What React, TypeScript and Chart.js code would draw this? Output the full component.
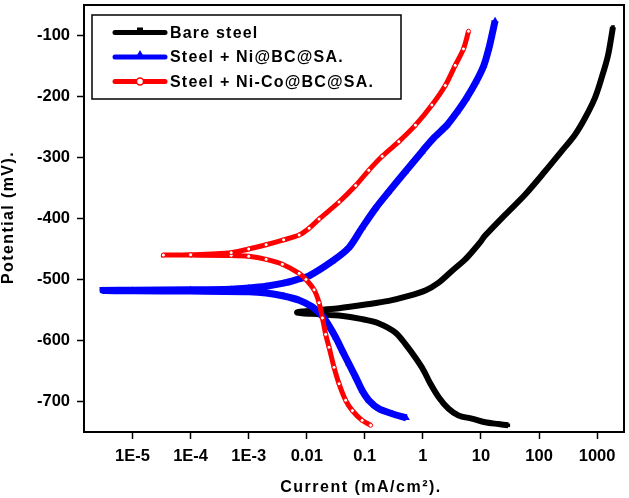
import React, { useEffect, useRef } from "react";
import { Chart, registerables } from "chart.js";

Chart.register(...registerables);

// ---- axis ticks ----
const xTicks = [1e-5, 1e-4, 1e-3, 0.01, 0.1, 1, 10, 100, 1000];
const xTickLabels = ["1E-5", "1E-4", "1E-3", "0.01", "0.1", "1", "10", "100", "1000"];
const yTicks = [-700, -600, -500, -400, -300, -200, -100];
const xTitle = "Current (mA/cm²).";
const yTitle = "Potential (mV).";

// ---- series ----
const seriesNames = ["Bare steel", "Steel + Ni@BC@SA.", "Steel + Ni-Co@BC@SA."];
const seriesColors = ["#000000", "#0000FF", "#FF0000"];

const bareCurrent = [
  29.6, 20, 11.8, 6.95, 4.11, 2.77, 1.87, 1.35, 1.03, 0.74, 0.5, 0.337, 0.175, 0.09, 0.036, 0.0163, 0.0068,
  0.0163, 0.036, 0.103, 0.259, 0.57, 1.1, 1.87, 3.16, 5.35, 7.43, 9.5, 11.8, 26, 57.3, 126, 243, 413, 613, 910, 1181, 1538, 1875,
];
const barePotential = [
  -739, -737, -734, -728, -723, -712, -693, -671, -649, -628, -606, -587, -572, -565, -559, -557, -554,
  -550, -547, -541, -535, -527, -518, -505, -486, -467, -452, -440, -428, -394, -361, -323, -290, -263, -236, -203, -171, -133, -86,
];

const niCurrent = [
  0.52, 0.295, 0.175, 0.117, 0.09, 0.0695, 0.053, 0.041, 0.0315, 0.0242, 0.0186, 0.0125, 0.0074, 0.004, 0.002, 0.001, 0.0001, 0.00001, 0.0000031,
  0.00001, 0.0001, 0.0005, 0.001, 0.002, 0.004, 0.0074, 0.011, 0.0276, 0.053, 0.09, 0.154, 0.259, 0.5, 0.97, 1.5, 2.6, 3.9, 5.6, 8.2, 11.2, 13.6, 15.4, 17.5,
];
const niPotential = [
  -727, -720, -712, -698, -682, -660, -638, -617, -595, -576, -560, -545, -534, -527, -522, -520, -519, -518.5, -518,
  -517.5, -517, -516, -514, -511, -506, -499, -494, -470, -448, -415, -383, -356, -323, -290, -269, -247, -225, -203, -176, -149, -122, -100, -76,
];

const niCoCurrent = [
  0.126, 0.09, 0.061, 0.0468, 0.036, 0.0295, 0.0242, 0.0212, 0.0186, 0.0163, 0.0134, 0.0097, 0.0074, 0.0038, 0.002, 0.001, 0.0005, 0.0001, 0.000034,
  0.0001, 0.0005, 0.001, 0.002, 0.004, 0.0074, 0.011, 0.0163, 0.036, 0.0695, 0.117, 0.199, 0.385, 0.743, 1.43, 2.43, 3.6, 5, 6.1,
];
const niCoPotential = [
  -739, -731, -715, -698, -671, -644, -611, -590, -563, -538, -517, -500, -490, -475, -467, -462, -460.5, -460, -460,
  -459.5, -456, -450, -443, -435, -427, -416, -401, -373, -346, -321, -298, -274, -247, -214, -182, -149, -122, -93,
];

const FONT = "'Liberation Sans', Arial, sans-serif";

const toPoints = (xs: number[], ys: number[]) => xs.map((x, i) => ({ x, y: ys[i] }));

const framePlugin = {
  id: "frame",
  afterDraw(chart: any) {
    const { ctx, chartArea } = chart;
    const { left, top, right, bottom } = chartArea;
    ctx.save();
    ctx.strokeStyle = "#000";
    ctx.lineWidth = 2;
    ctx.strokeRect(left, top, right - left, bottom - top);
    ctx.restore();
  },
};

const titlesPlugin = {
  id: "axisTitles",
  afterDraw(chart: any) {
    const { ctx, chartArea, height } = chart;
    ctx.save();
    ctx.fillStyle = "#000";
    ctx.font = `bold 16px ${FONT}`;
    ctx.textAlign = "center";
    ctx.textBaseline = "middle";
    (ctx as any).letterSpacing = "1.5px";
    ctx.fillText(xTitle, (chartArea.left + chartArea.right) / 2 + 7, height - 10.5);
    (ctx as any).letterSpacing = "1.4px";
    ctx.translate(8.5, (chartArea.top + chartArea.bottom) / 2 - 1);
    ctx.rotate(-Math.PI / 2);
    ctx.fillText(yTitle, 0, 0);
    ctx.restore();
  },
};

const legendPlugin = {
  id: "boxLegend",
  afterDraw(chart: any) {
    const { ctx, chartArea } = chart;
    const bx = chartArea.left + 8;
    const by = chartArea.top + 10;
    const bw = 309;
    const bh = 84;
    ctx.save();
    ctx.fillStyle = "#fff";
    ctx.fillRect(bx, by, bw, bh);
    ctx.strokeStyle = "#000";
    ctx.lineWidth = 1.5;
    ctx.strokeRect(bx, by, bw, bh);
    ctx.font = `bold 16px ${FONT}`;
    (ctx as any).letterSpacing = "1.2px";
    ctx.textBaseline = "middle";
    ctx.textAlign = "left";
    seriesNames.forEach((name, i) => {
      const y = by + 17.5 + i * 24.5;
      const x0 = bx + 23;
      const x1 = bx + 73;
      const xm = (x0 + x1) / 2;
      const c = seriesColors[i];
      ctx.strokeStyle = c;
      ctx.lineWidth = 5;
      ctx.lineCap = "round";
      ctx.beginPath();
      ctx.moveTo(x0, y);
      ctx.lineTo(x1, y);
      ctx.stroke();
      if (i === 0) {
        ctx.fillStyle = c;
        ctx.fillRect(xm - 3, y - 5, 6, 6);
      } else if (i === 1) {
        ctx.fillStyle = c;
        ctx.beginPath();
        ctx.moveTo(xm, y - 7);
        ctx.lineTo(xm + 4.5, y + 1);
        ctx.lineTo(xm - 4.5, y + 1);
        ctx.closePath();
        ctx.fill();
      } else {
        ctx.fillStyle = "#fff";
        ctx.strokeStyle = c;
        ctx.lineWidth = 1.5;
        ctx.beginPath();
        ctx.arc(xm, y, 3.5, 0, Math.PI * 2);
        ctx.fill();
        ctx.stroke();
      }
      ctx.fillStyle = "#000";
      ctx.fillText(name, bx + 78, y + 1);
    });
    ctx.restore();
  },
};

export default function App() {
  const ref = useRef<HTMLCanvasElement | null>(null);

  useEffect(() => {
    if (!ref.current) return;
    Chart.defaults.color = "#000";
    const chart = new Chart(ref.current, {
      type: "scatter",
      data: {
        datasets: [
          {
            label: seriesNames[0],
            data: toPoints(bareCurrent, barePotential),
            showLine: true,
            borderColor: seriesColors[0],
            backgroundColor: seriesColors[0],
            borderWidth: 6,
            tension: 0.3,
            pointStyle: "rect",
            pointRadius: 2.5,
            pointBorderWidth: 0,
            order: 3,
          },
          {
            label: seriesNames[1],
            data: toPoints(niCurrent, niPotential),
            showLine: true,
            borderColor: seriesColors[1],
            backgroundColor: seriesColors[1],
            borderWidth: 7,
            tension: 0.3,
            pointStyle: "triangle",
            pointRadius: 4,
            pointBorderWidth: 0,
            order: 2,
          },
          {
            label: seriesNames[2],
            data: toPoints(niCoCurrent, niCoPotential),
            showLine: true,
            borderColor: seriesColors[2],
            backgroundColor: "#fff",
            pointBackgroundColor: "#fff",
            pointBorderColor: seriesColors[2],
            borderWidth: 5,
            tension: 0.3,
            pointStyle: "circle",
            pointRadius: 2,
            pointBorderWidth: 1,
            order: 1,
          },
        ],
      },
      options: {
        responsive: false,
        animation: false,
        devicePixelRatio: 1,
        layout: { padding: { top: 3, right: 3, left: 0, bottom: 0 } },
        plugins: {
          legend: { display: false },
          tooltip: { enabled: false },
        },
        scales: {
          x: {
            type: "logarithmic",
            min: 1.46e-6,
            max: 2904,
            afterBuildTicks: (scale: any) => {
              scale.ticks = xTicks.map((v) => ({ value: v }));
            },
            afterFit: (scale: any) => {
              scale.height = 66;
              scale.paddingLeft = 0;
              scale.paddingRight = 0;
            },
            ticks: {
              autoSkip: false,
              maxRotation: 0,
              padding: 7.5,
              color: "#000",
              font: { family: FONT, size: 16.5, weight: "bold" },
              callback: (_v: any, i: number) => xTickLabels[i],
            },
            grid: {
              drawOnChartArea: false,
              drawTicks: true,
              tickLength: 7,
              tickColor: "#000",
              tickWidth: 1.5,
            },
            border: { display: true, color: "#000", width: 2 },
            title: { display: false },
          },
          y: {
            type: "linear",
            min: -750,
            max: -50,
            afterBuildTicks: (scale: any) => {
              scale.ticks = yTicks.map((v) => ({ value: v }));
            },
            afterFit: (scale: any) => {
              scale.width = 84;
              scale.paddingTop = 0;
              scale.paddingBottom = 0;
            },
            ticks: {
              padding: 7,
              color: "#000",
              font: { family: FONT, size: 16.5, weight: "bold" },
              callback: (v: any) => String(v),
            },
            grid: {
              drawOnChartArea: false,
              drawTicks: true,
              tickLength: 7,
              tickColor: "#000",
              tickWidth: 1.5,
            },
            border: { display: true, color: "#000", width: 2 },
            title: { display: false },
          },
        },
      },
      plugins: [framePlugin, titlesPlugin, legendPlugin],
    } as any);
    return () => chart.destroy();
  }, []);

  return (
    <div style={{ position: "fixed", left: 0, top: 0, width: 629, height: 498, background: "#fff" }}>
      <canvas ref={ref} width={629} height={498} style={{ display: "block", width: 629, height: 498 }} />
    </div>
  );
}
